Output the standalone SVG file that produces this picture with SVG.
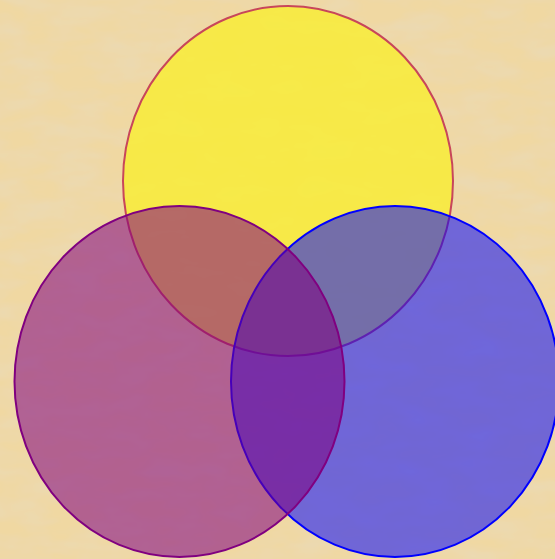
<svg xmlns="http://www.w3.org/2000/svg" width="555" height="559" viewBox="0 0 555 559">
  <defs>
    <filter id="parch" x="0" y="0" width="100%" height="100%">
      <feTurbulence type="fractalNoise" baseFrequency="0.02 0.05" numOctaves="3" seed="7" result="n"/>
      <feColorMatrix in="n" type="matrix" values="0 0 0 0 0.82  0 0 0 0 0.70  0 0 0 0 0.47  0 0 0 1.4 -0.45" result="c"/>
      <feComposite in="c" in2="SourceGraphic" operator="over"/>
    </filter>
    <style>
      .set { stroke-width: 2; }
      #setA ellipse { fill: rgb(248,236,55); fill-opacity: 0.85; stroke: #c8465a; }
      #setB ellipse { fill: #0000ff; fill-opacity: 0.53; stroke: #0000ff; }
      #setC ellipse { fill: #800080; fill-opacity: 0.55; stroke: #800080; }
    </style>
  </defs>
  <rect x="0" y="0" width="555" height="559" fill="#f0d8a2" filter="url(#parch)"/>
  <g id="setA" class="set"><ellipse cx="288" cy="181" rx="165" ry="175" stroke-width="2"/></g>
  <g id="setB" class="set"><ellipse cx="395" cy="381.5" rx="164" ry="175.5" stroke-width="2"/></g>
  <g id="setC" class="set"><ellipse cx="179.5" cy="381.5" rx="165" ry="175.5" stroke-width="2"/></g>
  <g id="connectors"/>
</svg>
